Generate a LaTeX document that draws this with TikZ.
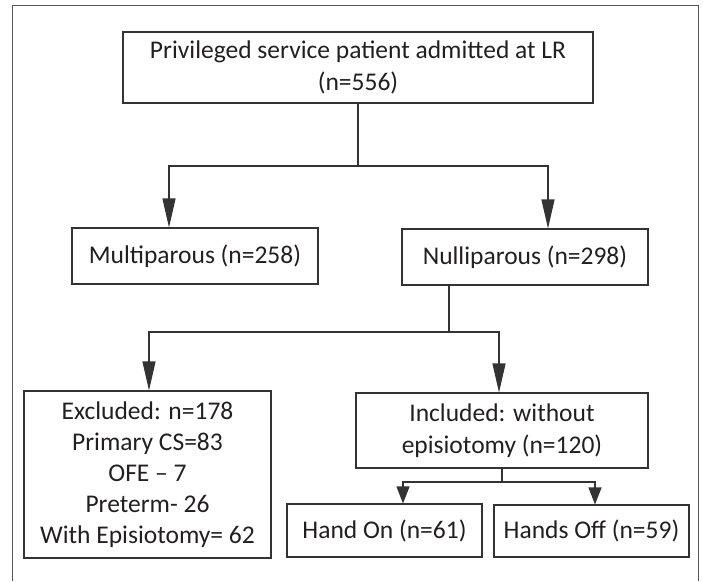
\documentclass[tikz,border=0pt]{standalone}
\usepackage{fontspec}
\setmainfont{Carlito}
\usetikzlibrary{arrows.meta}
\definecolor{linec}{HTML}{333333}
\definecolor{textc}{HTML}{231F20}
\definecolor{framec}{HTML}{555555}
\tikzset{
  box/.style={draw=linec, line width=1.1pt, rectangle, inner sep=0pt, align=center,
    text=textc, font=\fontsize{25.5}{32}\selectfont},
  conn/.style={draw=linec, line width=1.1pt},
  bigarr/.style={conn, -{Triangle[length=29pt,width=13pt]}},
  smallarr/.style={conn, -{Triangle[length=17pt,width=13pt]}}
}
\begin{document}
\begin{tikzpicture}[x=1pt,y=-1pt]
\useasboundingbox (0,0) rectangle (703,581);
% outer frame (open at the bottom)
\draw[draw=framec, line width=1pt] (12,581) -- (12,5) -- (698,5) -- (698,581);

\node[box, minimum width=470pt, minimum height=71pt] (top) at (358,67.5)
  {Privileged service patient admitted at LR\\(n=556)};
\node[box, minimum width=246pt, minimum height=56pt] (multi) at (195,256) {Multiparous (n=258)};
\node[box, minimum width=246pt, minimum height=56pt] (nulli) at (525,257) {Nulliparous (n=298)};
\node[box, minimum width=247pt, minimum height=167pt, font=\fontsize{25.5}{31}\selectfont] (excl) at (147.5,474.5)
  {Excluded: n=178\\Primary CS=83\\OFE -- 7\\Preterm- 26\\With Episiotomy= 62};
\node[box, minimum width=292pt, minimum height=75pt] (incl) at (502,430.5)
  {Included: without\\episiotomy (n=120)};
\node[box, minimum width=195pt, minimum height=53pt] (hon) at (384.5,530.5) {Hand On (n=61)};
\node[box, minimum width=195pt, minimum height=52pt] (hoff) at (591.5,531) {Hands Off (n=59)};

% level 1
\coordinate (j1) at (358,166);
\coordinate (j1l) at (169,166);
\coordinate (j1r) at (548,166);
\draw[conn] (top.south) -- (j1);
\draw[bigarr] (j1) -- (j1l) -- (j1l |- multi.north);
\draw[bigarr] (j1) -- (j1r) -- (j1r |- nulli.north);

% level 2
\coordinate (j2) at (449,332);
\coordinate (j2l) at (149,332);
\coordinate (j2r) at (499,332);
\draw[conn] (j2 |- nulli.south) -- (j2);
\draw[bigarr] (j2) -- (j2l) -- (j2l |- excl.north);
\draw[bigarr] (j2) -- (j2r) -- (j2r |- incl.north);

% level 3
\coordinate (j3) at (502,482);
\coordinate (j3l) at (403,482);
\coordinate (j3r) at (595,482);
\draw[conn] (incl.south) -- (j3);
\draw[smallarr] (j3) -- (j3l) -- (j3l |- hon.north);
\draw[smallarr] (j3) -- (j3r) -- (j3r |- hoff.north);
\end{tikzpicture}
\end{document}
